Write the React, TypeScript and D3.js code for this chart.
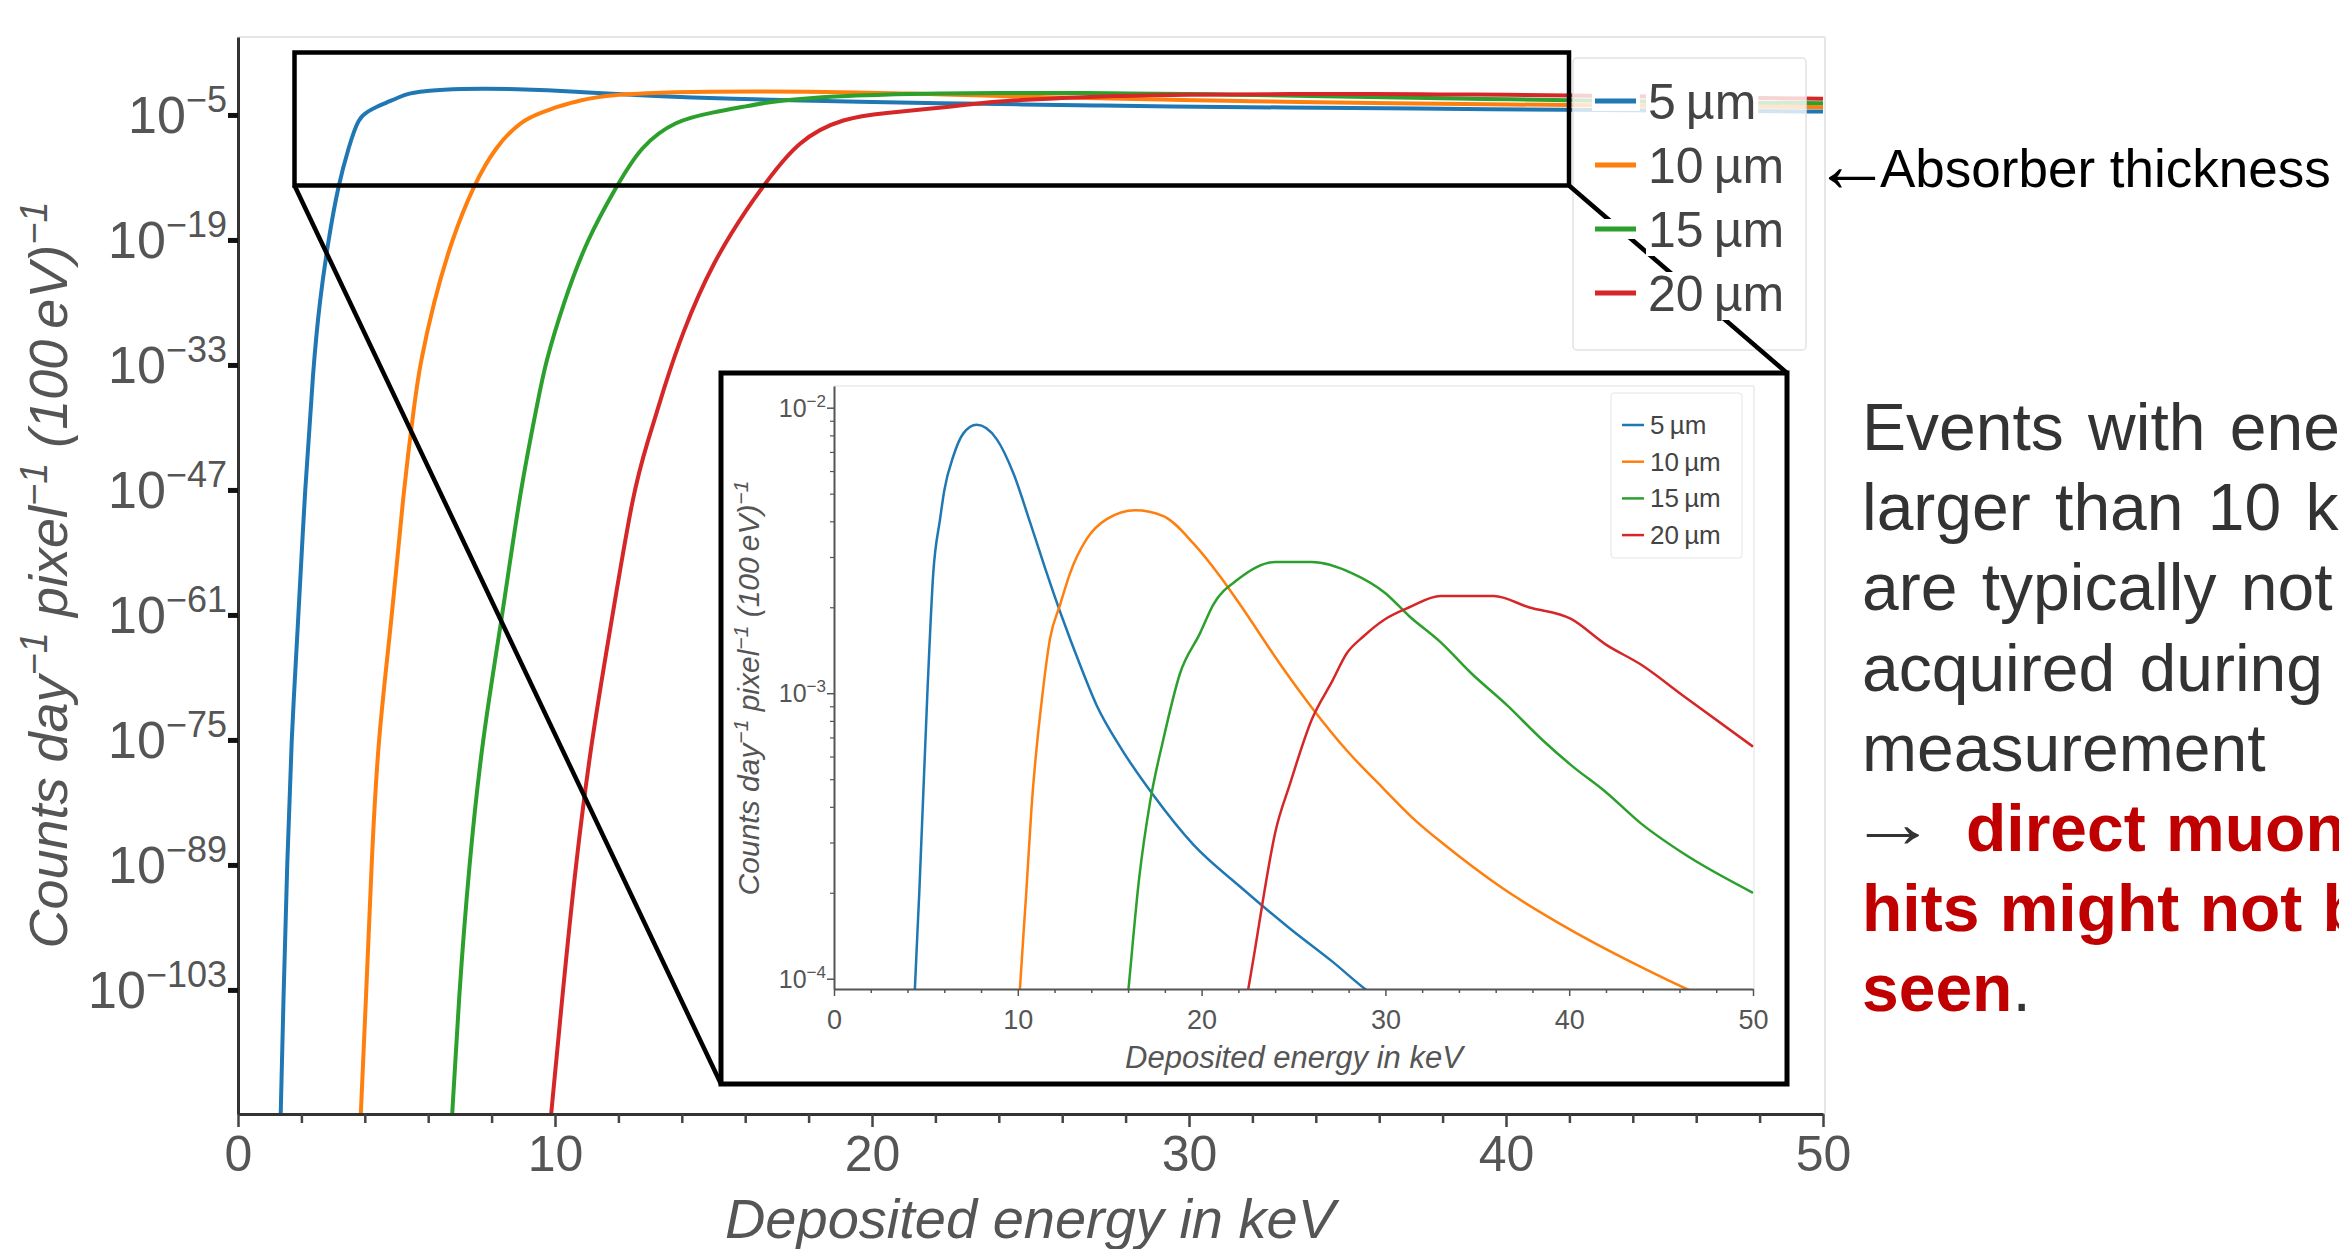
import React, { useEffect, useRef } from 'react';
import * as d3 from 'd3';

const W = 2339;
const H = 1249;

const thicknessLabels = ['5\u2009µm', '10\u2009µm', '15\u2009µm', '20\u2009µm'];
const lineColors = ['#1f77b4', '#ff7f0e', '#2ca02c', '#d62728'];

// deposited energy in keV / counts day^-1 pixel^-1 (100 eV)^-1
const energy5 = [1.34, 1.44, 1.55, 1.68, 1.9, 2.11, 2.38, 2.57, 2.85, 3.16, 3.5, 3.8, 4.1, 4.39, 4.64, 5.08, 5.4, 5.77, 6.0, 6.49, 7.04, 7.76, 8.85, 9.76, 10.66, 11.48, 12.39, 13.38, 14.28, 15.56, 17.37, 19.55, 22.1, 24.8, 27.1, 29.2, 33, 37, 42, 46, 50];
const counts5 = [1e-118, 1e-103, 1e-89, 1e-75, 2.51e-62, 1e-47, 1e-33, 1e-26, 1e-19, 1.26e-13, 3.16e-9, 5.01e-6, 2.51e-5, 8.91e-5, 2.0e-4, 1.0e-3, 2.63e-3, 4.07e-3, 5.13e-3, 6.76e-3, 8.13e-3, 8.71e-3, 7.76e-3, 5.89e-3, 3.98e-3, 2.75e-3, 1.86e-3, 1.26e-3, 9.1e-4, 6.5e-4, 4.4e-4, 2.95e-4, 2.1e-4, 1.5e-4, 1.15e-4, 8.9e-5, 6.8e-5, 5.2e-5, 3.8e-5, 3.0e-5, 2.4e-5];

const energy10 = [3.86, 4.05, 4.21, 4.41, 4.85, 5.22, 5.58, 5.74, 6.16, 6.74, 7.42, 8.13, 8.95, 9.6, 10.1, 10.46, 10.75, 11.35, 11.75, 12.3, 12.84, 13.75, 14.84, 16.39, 17.92, 19.55, 21.0, 22.1, 24.4, 26.0, 27.9, 29.8, 31.7, 33.2, 36.3, 40.1, 43.9, 46.9, 50];
const counts10 = [1e-118, 1e-103, 1e-89, 1e-75, 2.51e-62, 1e-47, 1.26e-37, 1e-33, 7.94e-27, 1e-19, 1.12e-13, 3.16e-9, 2.51e-6, 2.0e-5, 8.9e-5, 2.0e-4, 4.0e-4, 1.0e-3, 1.55e-3, 2.04e-3, 2.63e-3, 3.47e-3, 4.07e-3, 4.37e-3, 4.17e-3, 3.35e-3, 2.57e-3, 2.04e-3, 1.23e-3, 8.9e-4, 6.3e-4, 4.7e-4, 3.55e-4, 2.95e-4, 2.09e-4, 1.48e-4, 1.1e-4, 8.9e-5, 7.4e-5];

const energy15 = [6.74, 6.98, 7.29, 7.7, 8.32, 8.9, 9.47, 9.68, 10.26, 11.0, 11.95, 12.7, 13.8, 15.0, 16.0, 16.6, 17.2, 17.92, 18.82, 19.91, 20.63, 22.0, 24.0, 26.0, 28.2, 30.0, 31.3, 33.0, 34.7, 36.6, 38.5, 40.1, 42.0, 43.9, 46.2, 50];
const counts15 = [1e-118, 1e-103, 1e-89, 1e-75, 2.51e-62, 1e-47, 1.26e-37, 1e-33, 7.94e-27, 1e-19, 1.12e-13, 3.16e-9, 2.51e-6, 2.0e-5, 8.9e-5, 2.24e-4, 4.17e-4, 6.9e-4, 1.17e-3, 1.62e-3, 2.04e-3, 2.51e-3, 2.88e-3, 2.88e-3, 2.63e-3, 2.24e-3, 1.86e-3, 1.51e-3, 1.17e-3, 9.1e-4, 6.9e-4, 5.6e-4, 4.5e-4, 3.5e-4, 2.75e-4, 2.0e-4];

const energy20 = [9.85, 10.25, 10.65, 11.15, 11.79, 12.47, 12.94, 13.42, 14.0, 15.0, 16.15, 16.6, 17.67, 19.1, 20.5, 21.7, 22.5, 22.9, 23.3, 24.0, 24.8, 26.0, 27.1, 27.9, 28.8, 30.0, 31.3, 33.0, 35.9, 37.8, 40.1, 42.0, 43.9, 46.2, 50];
const counts20 = [1e-118, 1e-103, 1e-89, 1e-75, 2.51e-62, 1e-47, 3.98e-42, 1.58e-36, 3.16e-30, 5.01e-22, 1e-15, 1.45e-13, 1.58e-8, 5.01e-6, 1.78e-5, 4.47e-5, 8.9e-5, 1.26e-4, 1.82e-4, 3.24e-4, 4.79e-4, 8.1e-4, 1.1e-3, 1.38e-3, 1.58e-3, 1.82e-3, 2.0e-3, 2.19e-3, 2.19e-3, 2.0e-3, 1.82e-3, 1.48e-3, 1.26e-3, 9.8e-4, 6.5e-4];

const xTicks = [0, 10, 20, 30, 40, 50];
const mainYExponents = [-5, -19, -33, -47, -61, -75, -89, -103];
const insetYExponents = [-2, -3, -4];

const xLabel = 'Deposited energy in keV';
const absorberNote = 'Absorber thickness';
const noteLines = ['Events with energies', 'larger than 10 keV', 'are typically not', 'acquired during', 'measurement'];
const noteRed = ['direct muon', 'hits might not be', 'seen'];

const FONT = "'Liberation Sans', Arial, Helvetica, sans-serif";

// 10^-n with a raised exponent
const powLabel = (text, exp, supSize, raise) => {
  text.append('tspan').text('10');
  text.append('tspan').attr('font-size', supSize).attr('dy', -raise).text('\u2212' + Math.abs(exp));
};

const unitLabel = (text, supSize, raise) => {
  const parts = [['Counts day', false], ['\u22121', true], [' pixel', false], ['\u22121', true], [' (100\u2009eV)', false], ['\u22121', true]];
  parts.forEach(([t, sup], i) => {
    const ts = text.append('tspan').text(t);
    if (sup) ts.attr('font-size', supSize).attr('dy', -raise);
    else if (i > 0) ts.attr('dy', raise);
  });
};

const App = () => {
  const ref = useRef(null);

  useEffect(() => {
    const svg = d3.select(ref.current);
    svg.selectAll('*').remove();
    svg.attr('font-family', FONT);

    const series = thicknessLabels.map((label, i) => ({
      label,
      color: lineColors[i],
      pts: d3.zip([energy5, energy10, energy15, energy20][i], [counts5, counts10, counts15, counts20][i]),
    }));

    svg.append('rect').attr('width', W).attr('height', H).attr('fill', '#fff');
    const defs = svg.append('defs');

    // ---------- main chart ----------
    const x = d3.scaleLinear().domain([0, 50]).range([238, 1823]);
    const y = d3.scaleLog().domain([1.26e-117, 10 ** 3.73]).range([1114, 37]);

    defs.append('clipPath').attr('id', 'clipMain')
      .append('rect').attr('x', 238).attr('y', 37).attr('width', 1587).attr('height', 1077);

    // light top / right spines
    svg.append('line').attr('x1', 238).attr('x2', 1825).attr('y1', 37).attr('y2', 37)
      .attr('stroke', '#e6e6e6').attr('stroke-width', 2);
    svg.append('line').attr('x1', 1825).attr('x2', 1825).attr('y1', 37).attr('y2', 1114)
      .attr('stroke', '#e6e6e6').attr('stroke-width', 2);

    const lineMain = d3.line().curve(d3.curveBasis).x((d) => x(d[0])).y((d) => y(d[1]));
    svg.append('g').attr('clip-path', 'url(#clipMain)')
      .selectAll('path').data(series).join('path')
      .attr('d', (d) => lineMain(d.pts))
      .attr('fill', 'none')
      .attr('stroke', (d) => d.color)
      .attr('stroke-width', 4)
      .attr('stroke-linejoin', 'round');

    const gx = svg.append('g').attr('transform', 'translate(0,1114)')
      .call(d3.axisBottom(x).tickValues(xTicks).tickSize(13).tickSizeOuter(0).tickPadding(8).tickFormat(d3.format('d')));
    gx.select('.domain').attr('stroke', '#333').attr('stroke-width', 3);
    gx.selectAll('.tick line').attr('stroke', '#444').attr('stroke-width', 2.5);
    gx.selectAll('.tick text').attr('font-size', 50).attr('fill', '#555').attr('font-family', FONT);

    const gxMinor = svg.append('g').attr('transform', 'translate(0,1114)')
      .call(d3.axisBottom(x).tickValues(d3.range(2, 50, 2).filter((v) => v % 10 !== 0)).tickSize(9).tickFormat(() => ''));
    gxMinor.select('.domain').remove();
    gxMinor.selectAll('.tick line').attr('stroke', '#444').attr('stroke-width', 2.5);

    const gy = svg.append('g').attr('transform', 'translate(238,0)')
      .call(d3.axisLeft(y).tickValues(mainYExponents.map((e) => 10 ** e)).tickSize(10).tickSizeOuter(0).tickFormat(() => ''));
    gy.select('.domain').attr('stroke', '#333').attr('stroke-width', 3);
    gy.selectAll('.tick line').attr('stroke', '#111').attr('stroke-width', 5);

    mainYExponents.forEach((e) => {
      const t = svg.append('text').attr('x', 227).attr('y', y(10 ** e) + 18.5)
        .attr('text-anchor', 'end').attr('font-size', 52).attr('fill', '#555');
      powLabel(t, e, 36, 21);
    });

    const yl = svg.append('text').attr('transform', 'translate(67,575) rotate(-90)')
      .attr('text-anchor', 'middle').attr('font-size', 54).attr('font-style', 'italic')
      .attr('fill', '#555').style('white-space', 'pre');
    unitLabel(yl, 38, 20);

    svg.append('text').attr('x', 1030).attr('y', 1238).attr('text-anchor', 'middle')
      .attr('font-size', 56).attr('font-style', 'italic').attr('fill', '#555').text(xLabel);

    // zoom box and connectors
    svg.append('rect').attr('x', 294.5).attr('y', 52.5).attr('width', 1274.5).attr('height', 133)
      .attr('fill', 'none').attr('stroke', '#000').attr('stroke-width', 4.5);
    svg.append('line').attr('x1', 294.5).attr('y1', 185.5).attr('x2', 721).attr('y2', 1084)
      .attr('stroke', '#000').attr('stroke-width', 4.5);

    // main legend
    svg.append('rect').attr('x', 1573).attr('y', 58).attr('width', 233).attr('height', 292).attr('rx', 4)
      .attr('fill', '#fff').attr('fill-opacity', 0.8).attr('stroke', '#e2e2e2').attr('stroke-width', 1.5);
    svg.append('line').attr('x1', 1569).attr('y1', 185.5).attr('x2', 1787).attr('y2', 373)
      .attr('stroke', '#000').attr('stroke-width', 4.5);
    const lg = svg.append('g');
    series.forEach((s, i) => {
      const ly = 101 + i * 64;
      const backing = lg.append('g');
      lg.append('line').attr('x1', 1595).attr('x2', 1636).attr('y1', ly).attr('y2', ly)
        .attr('stroke', s.color).attr('stroke-width', 5);
      const t = lg.append('text').attr('x', 1648).attr('y', ly + 18).attr('font-size', 50).attr('fill', '#444')
        .text(s.label);
      const bb = t.node().getBBox();
      backing.append('rect').attr('x', 1592).attr('y', ly - 10).attr('width', 48).attr('height', 20).attr('fill', '#fff');
      backing.append('rect').attr('x', bb.x - 2).attr('y', bb.y + 6).attr('width', bb.width + 4).attr('height', bb.height - 8)
        .attr('fill', '#fff');
    });

    // ---------- inset ----------
    svg.append('rect').attr('x', 721).attr('y', 373).attr('width', 1066).attr('height', 711)
      .attr('fill', '#fff').attr('stroke', '#000').attr('stroke-width', 5);

    const xi = d3.scaleLinear().domain([0, 50]).range([834, 1753]);
    const yi = d3.scaleLog().domain([10 ** -4.036, 10 ** -1.924]).range([989, 386]);

    defs.append('clipPath').attr('id', 'clipInset')
      .append('rect').attr('x', 834).attr('y', 386).attr('width', 920).attr('height', 603);

    svg.append('line').attr('x1', 834).attr('x2', 1754).attr('y1', 386).attr('y2', 386)
      .attr('stroke', '#eaeaea').attr('stroke-width', 1.5);
    svg.append('line').attr('x1', 1754).attr('x2', 1754).attr('y1', 386).attr('y2', 989)
      .attr('stroke', '#eaeaea').attr('stroke-width', 1.5);

    const lineInset = d3.line().curve(d3.curveMonotoneX).x((d) => xi(d[0])).y((d) => yi(d[1]));
    svg.append('g').attr('clip-path', 'url(#clipInset)')
      .selectAll('path').data(series).join('path')
      .attr('d', (d) => lineInset(d.pts))
      .attr('fill', 'none')
      .attr('stroke', (d) => d.color)
      .attr('stroke-width', 2.5)
      .attr('stroke-linejoin', 'round');

    const gxi = svg.append('g').attr('transform', 'translate(0,989)')
      .call(d3.axisBottom(xi).tickValues(xTicks).tickSize(7).tickSizeOuter(0).tickPadding(14).tickFormat(d3.format('d')));
    gxi.select('.domain').attr('stroke', '#555').attr('stroke-width', 2);
    gxi.selectAll('.tick line').attr('stroke', '#555').attr('stroke-width', 1.5);
    gxi.selectAll('.tick text').attr('font-size', 27).attr('fill', '#555').attr('font-family', FONT);

    const gxiMinor = svg.append('g').attr('transform', 'translate(0,989)')
      .call(d3.axisBottom(xi).tickValues(d3.range(2, 50, 2).filter((v) => v % 10 !== 0)).tickSize(4).tickFormat(() => ''));
    gxiMinor.select('.domain').remove();
    gxiMinor.selectAll('.tick line').attr('stroke', '#555').attr('stroke-width', 1.5);

    const gyi = svg.append('g').attr('transform', 'translate(834,0)')
      .call(d3.axisLeft(yi).tickValues(insetYExponents.map((e) => 10 ** e)).tickSize(7).tickSizeOuter(0).tickFormat(() => ''));
    gyi.select('.domain').attr('stroke', '#555').attr('stroke-width', 2);
    gyi.selectAll('.tick line').attr('stroke', '#555').attr('stroke-width', 1.5);

    const minorYi = yi.ticks().filter((v) => Math.abs(Math.log10(v) - Math.round(Math.log10(v))) > 1e-6);
    const gyiMinor = svg.append('g').attr('transform', 'translate(834,0)')
      .call(d3.axisLeft(yi).tickValues(minorYi).tickSize(4).tickFormat(() => ''));
    gyiMinor.select('.domain').remove();
    gyiMinor.selectAll('.tick line').attr('stroke', '#555').attr('stroke-width', 1.2);

    insetYExponents.forEach((e) => {
      const t = svg.append('text').attr('x', 826).attr('y', yi(10 ** e) + 9)
        .attr('text-anchor', 'end').attr('font-size', 25).attr('fill', '#555');
      powLabel(t, e, 17, 10);
    });

    const yli = svg.append('text').attr('transform', 'translate(759,688) rotate(-90)')
      .attr('text-anchor', 'middle').attr('font-size', 30).attr('font-style', 'italic')
      .attr('fill', '#555').style('white-space', 'pre');
    unitLabel(yli, 21, 11);

    svg.append('text').attr('x', 1294).attr('y', 1068).attr('text-anchor', 'middle')
      .attr('font-size', 31).attr('font-style', 'italic').attr('fill', '#555').text(xLabel);

    svg.append('rect').attr('x', 1611).attr('y', 393).attr('width', 131).attr('height', 165).attr('rx', 3)
      .attr('fill', '#fff').attr('fill-opacity', 0.8).attr('stroke', '#e5e5e5').attr('stroke-width', 1);
    series.forEach((s, i) => {
      const ly = 425 + i * 36.7;
      svg.append('line').attr('x1', 1622).attr('x2', 1644).attr('y1', ly).attr('y2', ly)
        .attr('stroke', s.color).attr('stroke-width', 2.5);
      svg.append('text').attr('x', 1650).attr('y', ly + 9).attr('font-size', 26).attr('fill', '#444').text(s.label);
    });

    // ---------- slide text ----------
    svg.append('text').attr('x', 1813).attr('y', 191).attr('font-size', 78).attr('fill', '#000').text('\u2190');
    svg.append('text').attr('x', 1880).attr('y', 187).attr('font-size', 53).attr('fill', '#000').text(absorberNote);

    const noteX = 1862;
    const noteY = (i) => 450 + i * 80.2;
    noteLines.forEach((t, i) => {
      svg.append('text').attr('x', noteX).attr('y', noteY(i)).attr('font-size', 66).attr('word-spacing', 6)
        .attr('fill', '#333').text(t);
    });
    svg.append('text').attr('transform', 'translate(1849,847) scale(1.26,1)')
      .attr('font-size', 70).attr('fill', '#333').text('\u2192');
    svg.append('text').attr('x', 1966).attr('y', noteY(5)).attr('font-size', 66).attr('font-weight', 'bold')
      .attr('word-spacing', 2).attr('fill', '#c00000').text(noteRed[0]);
    svg.append('text').attr('x', noteX).attr('y', noteY(6)).attr('font-size', 66).attr('font-weight', 'bold')
      .attr('word-spacing', 2).attr('fill', '#c00000').text(noteRed[1]);
    const last = svg.append('text').attr('x', noteX).attr('y', noteY(7)).attr('font-size', 66);
    last.append('tspan').attr('font-weight', 'bold').attr('fill', '#c00000').text(noteRed[2]);
    last.append('tspan').attr('fill', '#333').text('.');
  }, []);

  return (
    <svg
      ref={ref}
      width={W}
      height={H}
      style={{ position: 'absolute', left: 0, top: 0, display: 'block', background: '#fff' }}
    />
  );
};

export default App;
